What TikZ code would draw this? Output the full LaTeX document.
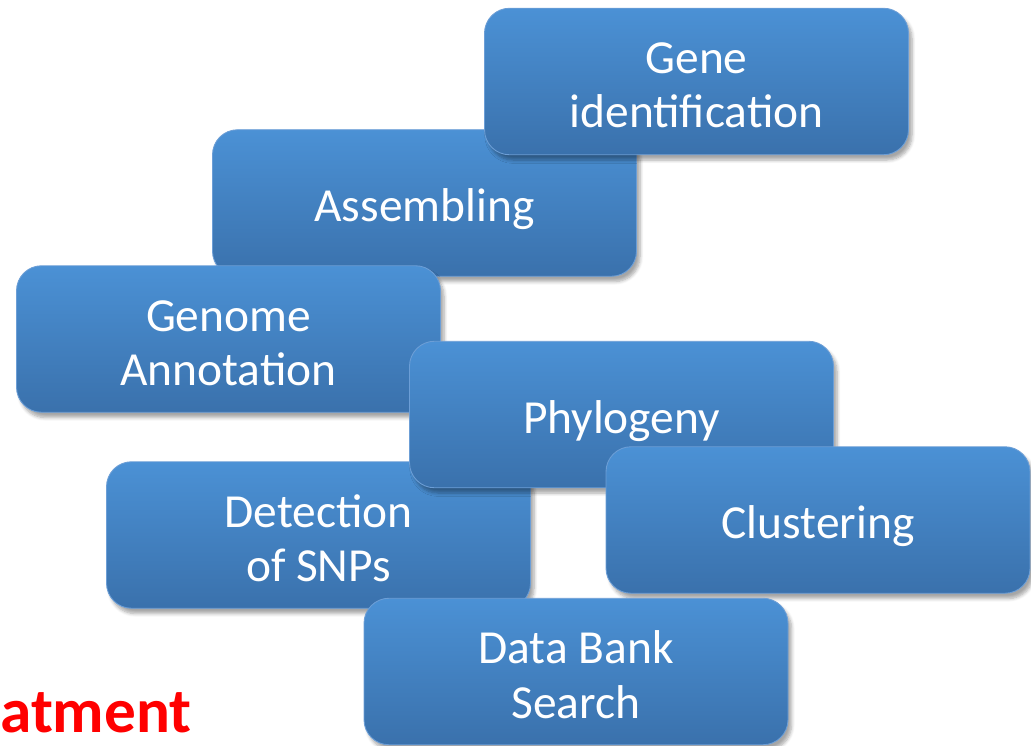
\documentclass[tikz,border=0pt]{standalone}
\usepackage{fontspec}
\setmainfont{Carlito}
\usetikzlibrary{shadows.blur}

\definecolor{boxtop}{RGB}{75,145,213}
\definecolor{boxbottom}{RGB}{58,113,172}
\definecolor{boxline}{RGB}{108,158,214}

\tikzset{
  task/.style = {rounded corners = .5cm, top color = boxtop, bottom color = boxbottom,
    draw = boxline, line width = .5pt, minimum width = 8.48cm, minimum height = 2.93cm,
    inner sep = 0pt, align = center, text = white, font = \fontsize{27}{31}\selectfont,
    blur shadow = {shadow xshift = 2pt, shadow yshift = -3pt, shadow opacity = 35, shadow blur steps = 6}},
  oneline/.style = {task, text height = .74cm, text depth = 0pt},
  twoline/.style = {task, text height = 1.86cm, text depth = 0pt},
  redtext/.style = {text = red, font = \fontsize{36}{40}\selectfont\bfseries, inner sep = 0pt}
}

\begin{document}
\begin{tikzpicture}

  \useasboundingbox (0, 0) rectangle (20.62, -14.9);

  %%upper boxes
  \node[oneline] (assembling) at (8.49, -4.06) {Assembling};
  \node[twoline] (geneid) at (13.93, -1.63) {Gene\\identification};

  %%middle boxes
  \node[twoline] (annotation) at (4.57, -6.78) {Genome\\Annotation};
  \node[twoline] (snps) at (6.37, -10.70) {Detection\\of SNPs};
  \node[oneline] (phylogeny) at (12.43, -8.29) {Phylogeny};
  \node[oneline] (clustering) at (16.36, -10.40) {Clustering};

  %%bottom box
  \node[twoline] (databank) at (11.52, -13.43) {Data Bank\\Search};

  %%cut title
  \node[redtext, anchor = base west] (title) at (0, -14.64) {atment};

\end{tikzpicture}
\end{document}
